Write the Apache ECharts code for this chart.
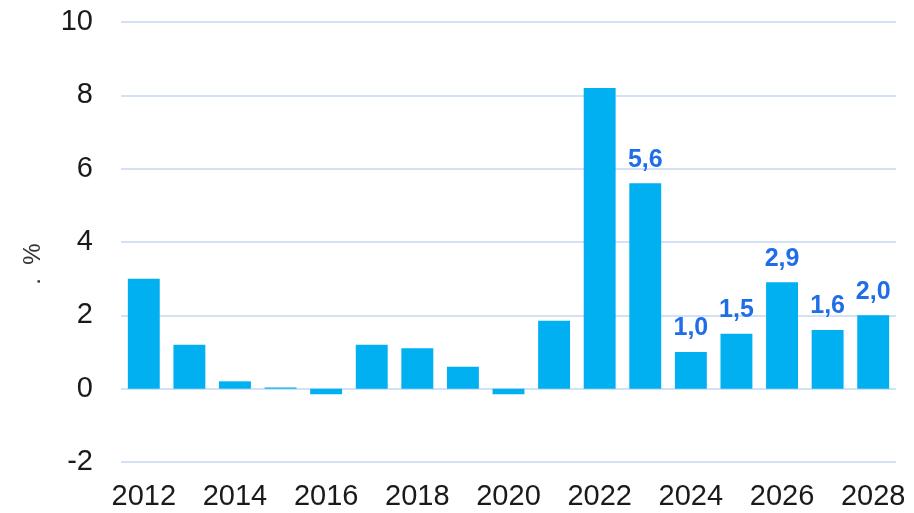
<!DOCTYPE html>
<html>
<head>
    <meta charset="utf-8">
    <script src="https://cdn.jsdelivr.net/npm/echarts@6/dist/echarts.min.js"></script>
    <style>
        html, body { margin: 0; padding: 0; background: #fff; }
        #main { width: 914px; height: 513px; }
    </style>
</head>
<body>
    <div id="main"></div>
    <script>
        // data
        var years = ['2012', '2013', '2014', '2015', '2016', '2017', '2018', '2019', '2020',
            '2021', '2022', '2023', '2024', '2025', '2026', '2027', '2028'];
        var values = [3.0, 1.2, 0.2, 0.03, -0.15, 1.2, 1.1, 0.6, -0.15, 1.85, 8.2, 5.6, 1.0, 1.5, 2.9, 1.6, 2.0];
        // years whose value is printed on the bar
        var labelled = ['2023', '2024', '2025', '2026', '2027', '2028'];

        var chart = echarts.init(document.getElementById('main'));

        var data = values.map(function (v, i) {
            var item = { value: v };
            if (labelled.indexOf(years[i]) >= 0) {
                item.label = { show: true };
            }
            return item;
        });

        chart.setOption({
            animation: false,
            grid: { left: 121, right: 18, top: 22, bottom: 51 },
            xAxis: {
                type: 'category',
                data: years,
                axisLine: { show: false },
                axisTick: { show: false },
                axisLabel: {
                    interval: 1,
                    color: '#1a1a1a',
                    fontSize: 29,
                    fontFamily: 'Liberation Sans',
                    margin: 20
                }
            },
            yAxis: {
                type: 'value',
                min: -2,
                max: 10,
                interval: 2,
                name: '.  %',
                nameLocation: 'middle',
                nameGap: 76,
                nameTextStyle: {
                    color: '#333',
                    fontSize: 24,
                    fontFamily: 'Liberation Sans',
                    padding: [0, 44, 0, 0]
                },
                axisLabel: {
                    color: '#1a1a1a',
                    fontSize: 29,
                    fontFamily: 'Liberation Sans',
                    margin: 28
                },
                splitLine: { lineStyle: { color: '#d3e1f7', width: 2 } }
            },
            series: [{
                type: 'bar',
                data: data,
                barCategoryGap: '30%',
                itemStyle: { color: '#00b0f0' },
                label: {
                    show: false,
                    position: 'top',
                    distance: 11,
                    color: '#1f6ee8',
                    fontWeight: 'bold',
                    fontSize: 25,
                    fontFamily: 'Liberation Sans',
                    formatter: function (p) {
                        return p.value.toFixed(1).replace('.', ',');
                    }
                }
            }]
        });
    </script>
</body>
</html>
